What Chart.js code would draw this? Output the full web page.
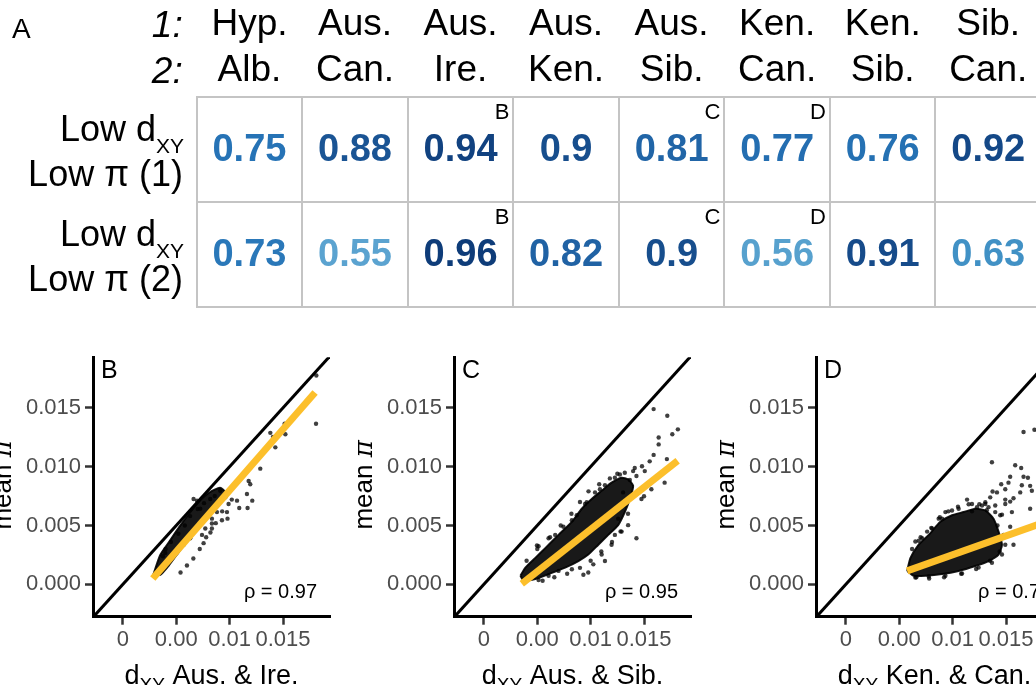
<!DOCTYPE html>
<html><head><meta charset="utf-8">
<script src="https://cdn.jsdelivr.net/npm/chart.js@4.4.1/dist/chart.umd.min.js"></script>
<style>
html,body{margin:0;padding:0;width:1036px;height:685px;overflow:hidden;background:#fff;position:relative}
canvas{position:absolute}
</style></head><body>
<canvas id="tbl" width="1060" height="320" style="left:0;top:0"></canvas>
<canvas id="pB" width="385" height="360" style="left:-40px;top:340px"></canvas>
<canvas id="pC" width="385" height="360" style="left:321px;top:340px"></canvas>
<canvas id="pD" width="385" height="360" style="left:683px;top:340px"></canvas>
<script>
// ---------- DATA ----------
const pop1 = ['Hyp.', 'Aus.', 'Aus.', 'Aus.', 'Aus.', 'Ken.', 'Ken.', 'Sib.'];
const pop2 = ['Alb.', 'Can.', 'Ire.', 'Ken.', 'Sib.', 'Can.', 'Sib.', 'Can.'];
const row1Values = [0.75, 0.88, 0.94, 0.9, 0.81, 0.77, 0.76, 0.92];
const row2Values = [0.73, 0.55, 0.96, 0.82, 0.9, 0.56, 0.91, 0.63];
const panelMarks = ['', '', 'B', '', 'C', 'D', '', ''];
const rowLabels = ['(1)', '(2)'];

const xTickValues = [0, 0.005, 0.01, 0.015];
const xTickLabels = ['0', '0.00', '0.01', '0.015'];
const yTickValues = [0, 0.005, 0.01, 0.015];
const yTickLabels = ['0.000', '0.005', '0.010', '0.015'];

const diagLine = [[-0.003, -0.003], [0.021, 0.021]];

// Panel B: Aus. & Ire.
const blobB = [[0.00284,0.0008],[0.0035,0.0025],[0.0044,0.0037],[0.0053,0.0049],[0.0062,0.0060],[0.0071,0.0070],[0.0081,0.0078],[0.0091,0.0082],[0.0096,0.0078],[0.0089,0.0071],[0.0080,0.0061],[0.0071,0.0049],[0.0061,0.0038],[0.0052,0.0027],[0.0043,0.0016],[0.0035,0.0008]];
const ptsB = [[0.01812,0.01775],[0.01809,0.01364],[0.01515,0.01364],[0.01522,0.01275],[0.01381,0.01287],[0.01406,0.01253],[0.01428,0.01164],[0.01287,0.00983],[0.01178,0.00878],[0.01193,0.0085],[0.01162,0.00767],[0.01212,0.00711],[0.01069,0.00711],[0.0109,0.00648],[0.01168,0.00648],[0.00912,0.00795],[0.0099,0.00683],[0.00975,0.00614],[0.0098,0.00558],[0.00928,0.00545],[0.00834,0.00517],[0.00834,0.00475],[0.00756,0.0035],[0.00694,0.00711],[0.00818,0.00725],[0.00397,0.00267],[0.00375,0.00239],
  [0.00662,0.00725],[0.00725,0.00642],[0.00881,0.00614],[0.00834,0.00558],[0.00772,0.00475],[0.00741,0.0042],[0.00568,0.00337],[0.00631,0.00392],
  [0.0040,0.0030],[0.0045,0.0036],[0.0052,0.0043],[0.0058,0.0050],[0.0063,0.0058],[0.0070,0.0064],[0.0076,0.0069],[0.0086,0.0075],[0.0096,0.0074],[0.0102,0.0072],[0.0093,0.0062],[0.0087,0.0052],[0.0082,0.0044],[0.0078,0.0040],[0.0072,0.0030],[0.0066,0.0022],[0.0060,0.0016],[0.0054,0.0010]];
const fitB = [[0.0028, 0.0005], [0.0180, 0.0163]];

// Panel C: Aus. & Sib.
const blobC = [[0.00342,0.00073],[0.00389,0.00142],[0.00482,0.00225],[0.00575,0.00308],[0.00699,0.0042],[0.00824,0.00531],[0.00917,0.00642],[0.0101,0.00725],[0.01103,0.00795],[0.01196,0.00864],[0.0129,0.00906],[0.01351,0.00892],[0.01398,0.00837],[0.01367,0.00725],[0.0132,0.00614],[0.01258,0.00503],[0.01165,0.0042],[0.01072,0.00337],[0.00978,0.00253],[0.00885,0.00198],[0.00761,0.00142],[0.00606,0.00087],[0.00482,0.00045],[0.00373,0.00031]];
const ptsC = [[0.0159,0.01489],[0.01718,0.01433],[0.01817,0.01317],[0.01765,0.01275],[0.01637,0.01248],[0.01637,0.01189],[0.0159,0.011],[0.01553,0.01045],[0.01714,0.01064],[0.01481,0.01003],[0.01507,0.00962],[0.01398,0.00962],[0.01429,0.0092],[0.01367,0.00887],[0.01693,0.00864],[0.01569,0.00808],[0.015,0.00748],[0.01476,0.00725],[0.01351,0.00503],[0.01429,0.00392],[0.01227,0.0042],[0.01196,0.00337],[0.01103,0.00253],[0.01134,0.00198],[0.01025,0.0017],[0.00978,0.001],[0.00932,0.00081],[0.01041,0.00781],[0.00963,0.00698],[0.00745,0.00489],[0.00512,0.00323],[0.01304,0.00781],
  [0.00497,0.00331],[0.00606,0.00392],[0.00668,0.0042],[0.00824,0.00545],[0.0087,0.00587],[0.00948,0.00683],[0.01087,0.00808],[0.01134,0.00842],[0.01227,0.00906],[0.01274,0.00933],[0.0132,0.00948],[0.01413,0.00989],[0.00699,0.00114],[0.00824,0.00128],[0.00606,0.00073],[0.00512,0.00037],[0.0129,0.00448],[0.01258,0.00558],[0.0132,0.0067],
  [0.0040,0.0020],[0.0050,0.0030],[0.0062,0.0040],[0.0072,0.0050],[0.0082,0.0060],[0.0090,0.0070],[0.0098,0.0079],[0.0108,0.0085],[0.0118,0.0090],[0.0125,0.0094],[0.0135,0.0060],[0.0128,0.0045],[0.0120,0.0036],[0.0110,0.0028],[0.0100,0.0020],[0.0090,0.0014],[0.0078,0.0009],[0.0066,0.0006],[0.0055,0.0003]];
const fitC = [[0.00355, 0.00005], [0.01815, 0.0105]];

// Panel D: Ken. & Can.
const blobD = [[0.00574,0.00114],[0.00605,0.00225],[0.00682,0.00337],[0.00776,0.0042],[0.00885,0.00531],[0.00994,0.00587],[0.01103,0.00614],[0.01212,0.00642],[0.01306,0.00628],[0.01383,0.00558],[0.0143,0.00448],[0.01462,0.00337],[0.0143,0.00253],[0.01336,0.00198],[0.01212,0.00156],[0.01056,0.00114],[0.00901,0.00087],[0.00745,0.00073],[0.00636,0.00073]];
const ptsD = [[0.01664,0.01295],[0.01766,0.01314],[0.01368,0.01037],[0.01586,0.01012],[0.01642,0.00989],[0.01664,0.00914],[0.01539,0.00914],[0.01705,0.00906],[0.01455,0.0085],[0.01523,0.00864],[0.01648,0.00842],[0.01726,0.00837],[0.01742,0.00795],[0.01493,0.00808],[0.01374,0.00789],[0.01415,0.00781],[0.01633,0.00781],[0.01352,0.00739],[0.0157,0.00731],[0.01493,0.0072],[0.01539,0.00703],[0.01135,0.0072],[0.01493,0.00683],[0.01399,0.0067],[0.01726,0.00642],[0.01555,0.00614],[0.01462,0.00592],[0.01539,0.00489],[0.0157,0.00337],[0.01181,0.0062],[0.01306,0.00683],[0.00682,0.0037],[0.00901,0.00558],[0.01797,0.01305],
  [0.00869,0.00558],[0.00932,0.00614],[0.00994,0.00628],[0.01056,0.00642],[0.01181,0.00683],[0.01228,0.00656],[0.01275,0.0067],[0.01306,0.00698],[0.01336,0.00656],[0.01399,0.00614],[0.01446,0.00587],[0.00651,0.00364],[0.00714,0.00392],[0.00761,0.00448],[0.00807,0.00475],[0.00651,0.00058],[0.00776,0.00067],[0.00932,0.00073],[0.01088,0.00092],[0.01243,0.00142],[0.01368,0.00183],[0.01462,0.00253],[0.01493,0.00337],[0.01477,0.0042],
  [0.0062,0.0030],[0.0070,0.0040],[0.0080,0.0048],[0.0088,0.0057],[0.0096,0.0062],[0.0105,0.0066],[0.0115,0.0068],[0.0125,0.0068],[0.0132,0.0063],[0.0142,0.0050],[0.0146,0.0040],[0.0144,0.0028],[0.0135,0.0020],[0.0122,0.0013],[0.0108,0.0009],[0.0092,0.0006],[0.0078,0.0005],[0.0066,0.0006]];
const fitD = [[0.00574, 0.00114], [0.0196, 0.0056]];

// ---------- STYLE HELPERS ----------
const FONT = '"Liberation Sans", Arial, Helvetica, sans-serif';
const blueStops = [[0.5,[107,174,214]],[0.625,[66,146,198]],[0.75,[38,115,182]],[0.875,[27,85,150]],[1.0,[8,48,107]]];
function blueFor(v){
  for(let i=0;i<blueStops.length-1;i++){
    const [a,ca]=blueStops[i],[b,cb]=blueStops[i+1];
    if(v<=b||i===blueStops.length-2){
      const t=Math.max(0,Math.min(1,(v-a)/(b-a)));
      return 'rgb('+ca.map((c,k)=>Math.round(c+(cb[k]-c)*t)).join(',')+')';
    }
  }
}
const toXY = arr => arr.map(p => ({x:p[0], y:p[1]}));

function drawComposite(ctx, parts, x, y, align){
  let total=0; const w=[];
  parts.forEach(p=>{ctx.font=p[1]; const m=ctx.measureText(p[0]).width; w.push(m); total+=m;});
  let cx = align==='right' ? x-total : (align==='center' ? x-total/2 : x);
  ctx.textAlign='left';
  parts.forEach((p,i)=>{ctx.font=p[1]; ctx.fillText(p[0], cx, y+(p[2]||0)); cx+=w[i];});
}

// ---------- TABLE ----------
const tablePlugin = {
  id:'tableText',
  afterDraw(chart){
    const {ctx, chartArea:a, scales:{x,y}} = chart;
    ctx.save();
    ctx.fillStyle='#000';
    ctx.textBaseline='alphabetic';
    ctx.textAlign='left';
    ctx.font='28px '+FONT;
    ctx.fillText('A', 12, 38);
    ctx.textAlign='right';
    ctx.font='italic 37px '+FONT;
    ctx.fillText('1:', a.left-14, a.top-59.4);
    ctx.fillText('2:', a.left-14, a.top-13.4);
    rowLabels.forEach((lab, r)=>{
      const cy = y.getPixelForValue(r);
      drawComposite(ctx, [['Low d','36px '+FONT,0],['XY','21px '+FONT,12.4]], a.left-12.7, cy-8.3, 'right');
      ctx.textAlign='right';
      ctx.font='36px '+FONT;
      ctx.fillText('Low \u03C0 '+lab, a.left-13.7, cy+37);
    });
    const colW = x.getPixelForValue(1)-x.getPixelForValue(0);
    const rowH = y.getPixelForValue(1)-y.getPixelForValue(0);
    [row1Values,row2Values].forEach((vals, di)=>{
      const meta = chart.getDatasetMeta(di);
      meta.data.forEach((el, i)=>{
        ctx.textAlign='center';
        ctx.textBaseline='middle';
        ctx.font='bold 38px '+FONT;
        ctx.fillStyle=blueFor(vals[i]);
        ctx.fillText(String(vals[i]), el.x, el.y+1);
        if(panelMarks[i]){
          ctx.fillStyle='#000';
          ctx.textAlign='right';
          ctx.textBaseline='alphabetic';
          ctx.font='22px '+FONT;
          ctx.fillText(panelMarks[i], el.x+colW/2-4, el.y-rowH/2+22.6);
        }
      });
    });
    ctx.restore();
  }
};

new Chart(document.getElementById('tbl'), {
  type:'scatter',
  data:{datasets:[
    {data: row1Values.map((v,i)=>({x:i,y:0})), pointRadius:0},
    {data: row2Values.map((v,i)=>({x:i,y:1})), pointRadius:0}
  ]},
  options:{
    responsive:false, animation:false, events:[],
    layout:{padding:{left:0,top:0,right:19,bottom:13.3}},
    plugins:{legend:{display:false},tooltip:{enabled:false}},
    scales:{
      x:{type:'linear', position:'top', min:-0.5, max:7.5,
        afterBuildTicks:s=>{s.ticks=pop1.map((_,i)=>({value:i}));},
        afterFit:s=>{s.height=96.7;},
        ticks:{callback:(v,i)=>[pop1[i],pop2[i]], font:{family:FONT,size:37,lineHeight:1.243}, color:'#000', padding:3.4, autoSkip:false, maxRotation:0, minRotation:0},
        grid:{offset:true, color:'#c4c4c4', lineWidth:2, drawTicks:false},
        border:{display:true, color:'#c4c4c4', width:2}},
      y:{type:'linear', reverse:true, min:-0.5, max:1.5,
        afterBuildTicks:s=>{s.ticks=[{value:0},{value:1}];},
        afterFit:s=>{s.width=196.7;},
        ticks:{display:false},
        grid:{offset:true, color:'#c4c4c4', lineWidth:2, drawTicks:false},
        border:{display:true, color:'#c4c4c4', width:2}}
    }
  },
  plugins:[tablePlugin]
});

// ---------- SCATTER PANELS ----------
const panelPlugin = {
  id:'panelText',
  afterDraw(chart, args, o){
    const {ctx, chartArea:a} = chart;
    ctx.save();
    ctx.fillStyle='#000';
    ctx.textBaseline='alphabetic';
    ctx.textAlign='left';
    ctx.font='25px '+FONT;
    ctx.fillText(o.letter, a.left+8, a.top+21);
    ctx.textAlign='right';
    ctx.font='20px '+FONT;
    ctx.fillText(o.rho, a.right-13, a.bottom-18.5);
    drawComposite(ctx, [['d','27px '+FONT,0],['XY','19px '+FONT,7],[' '+o.pair,'27px '+FONT,0]], (a.left+a.right)/2, a.bottom+67.5, 'center');
    ctx.translate(a.left-82, (a.top+a.bottom)/2-2);
    ctx.rotate(-Math.PI/2);
    drawComposite(ctx, [['mean ','26px '+FONT,0],['\u03C0','italic 26px "DejaVu Serif", serif',0]], 0, 0, 'center');
    ctx.restore();
  }
};

function makePanel(id, letter, rho, pair, blob, pts, fit){
  new Chart(document.getElementById(id), {
    type:'scatter',
    data:{datasets:[
      {data:toXY(fit), showLine:true, borderColor:'#fcbf2b', borderWidth:7, pointRadius:0, borderCapStyle:'butt', clip:0},
      {data:toXY(diagLine), showLine:true, borderColor:'#000', borderWidth:3, pointRadius:0, clip:0},
      {data:toXY(pts), pointRadius:2.2, pointBorderWidth:0, backgroundColor:'rgba(0,0,0,0.75)', pointBackgroundColor:'rgba(0,0,0,0.75)'},
      {data:toXY(blob.concat([blob[0]])), showLine:true, fill:'shape', tension:0.2, borderColor:'rgba(0,0,0,0.9)', backgroundColor:'rgba(0,0,0,0.9)', borderWidth:2, pointRadius:0}
    ]},
    options:{
      responsive:false, animation:false, events:[],
      layout:{padding:{left:0,top:12,right:15,bottom:0}},
      plugins:{legend:{display:false},tooltip:{enabled:false}, panelText:{letter, rho, pair}},
      scales:{
        x:{type:'linear', min:-0.0028, max:0.0194,
          afterBuildTicks:s=>{s.ticks=xTickValues.map(v=>({value:v}));},
          afterFit:s=>{s.height=83.3;},
          ticks:{callback:(v,i)=>xTickLabels[i], font:{family:FONT,size:22}, color:'#4d4d4d', padding:2, autoSkip:false, maxRotation:0, minRotation:0},
          grid:{drawOnChartArea:false, drawTicks:true, tickLength:8, tickColor:'#333', tickWidth:2.5},
          border:{display:true, color:'#000', width:3}},
        y:{type:'linear', min:-0.00275, max:0.0193,
          afterBuildTicks:s=>{s.ticks=yTickValues.map(v=>({value:v}));},
          afterFit:s=>{s.width=133;},
          ticks:{callback:(v,i)=>yTickLabels[i], font:{family:FONT,size:22}, color:'#4d4d4d', padding:4, autoSkip:false},
          grid:{drawOnChartArea:false, drawTicks:true, tickLength:8, tickColor:'#333', tickWidth:2.5},
          border:{display:true, color:'#000', width:3}}
      }
    },
    plugins:[panelPlugin]
  });
}
makePanel('pB','B','\u03C1 = 0.97','Aus. & Ire.', blobB, ptsB, fitB);
makePanel('pC','C','\u03C1 = 0.95','Aus. & Sib.', blobC, ptsC, fitC);
makePanel('pD','D','\u03C1 = 0.7','Ken. & Can.', blobD, ptsD, fitD);
</script>
</body></html>
